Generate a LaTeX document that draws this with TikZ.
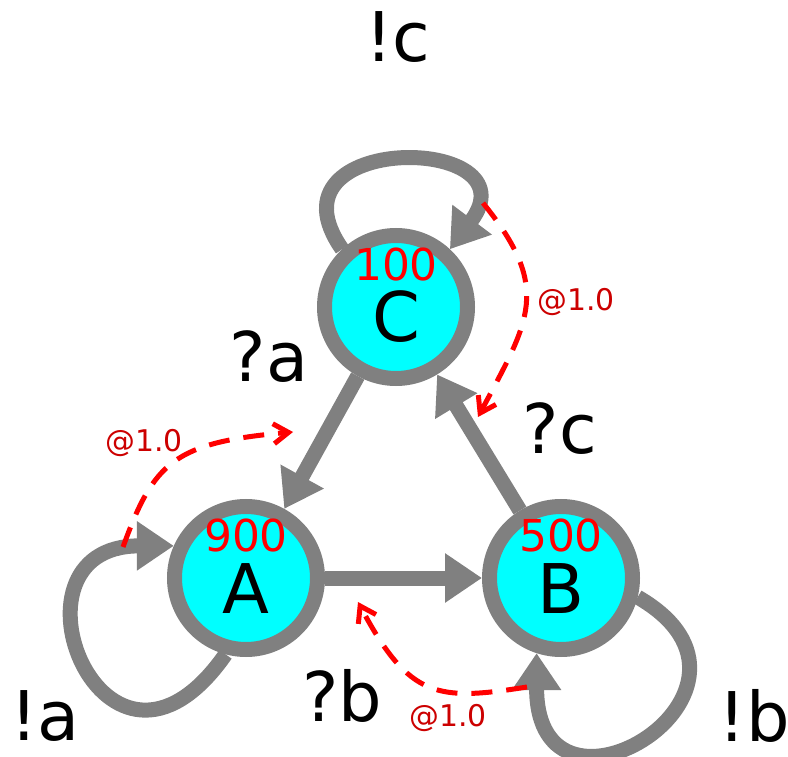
\documentclass[tikz,border=0pt]{standalone}
\usepackage{fontspec}
\setmainfont{DejaVu Sans}
\usepackage{xcolor}
\usetikzlibrary{arrows.meta}
\definecolor{statefill}{RGB}{0,255,255}
\definecolor{delayred}{RGB}{204,0,0}

\begin{document}
\begin{tikzpicture}[
  state/.style={circle, draw=gray, line width=0.3cm, fill=statefill, minimum size=2.86cm,
                inner sep=0pt, text height=1.4cm, text depth=0pt, font=\fontsize{39}{39}\selectfont},
  count/.style={text=red, inner sep=0pt, font=\fontsize{25}{25}\selectfont},
  trans/.style={draw=gray, line width=0.3cm, -{Triangle[length=0.74cm,width=0.94cm]}},
  act/.style={inner sep=0pt, font=\fontsize{39}{39}\selectfont},
  delay/.style={draw=red, line width=0.1cm, dash pattern=on 0.42cm off 0.28cm,
                -{Straight Barb[length=0.3cm,width=0.4cm]}},
  delaylbl/.style={text=delayred, inner sep=0pt, font=\fontsize{17}{17}\selectfont},
]
\useasboundingbox (0,0) rectangle (15.76,15.12);

\node[state, label={[count, yshift=0.84cm]center:100}] (C) at (7.92,8.98) {C};
\node[state, label={[count, yshift=0.84cm]center:900}] (A) at (4.92,3.56) {A};
\node[state, label={[count, yshift=0.84cm]center:500}] (B) at (11.22,3.56) {B};

% self loops
\draw[trans] (C.133) to[out=125, in=53, distance=2.9cm] (C.47);
\draw[trans] (A.255) to[out=235, in=180, out distance=4.2cm, in distance=3.6cm] (A.156);
\draw[trans] (B.346) to[out=-30, in=270, out distance=3.7cm, in distance=3.9cm] (B.252);

\draw[trans] (C) -- (A);
\draw[trans] (A) -- (B);
\draw[trans] (B) -- (C);

\node[act] (lc) at (7.96,14.38) {!c};
\node[act] (la) at (0.9,0.8) {!a};
\node[act] (lb) at (15.08,0.8) {!b};
\node[act] (qa) at (5.38,7.98) {?a};
\node[act] (qc) at (11.2,6.54) {?c};
\node[act] (qb) at (6.84,1.2) {?b};

% delays
\coordinate (dc0) at (9.66,11.06);
\coordinate (dc1) at (9.56,6.78);
\coordinate (da0) at (2.46,4.18);
\coordinate (da1) at (5.86,6.48);
\coordinate (db0) at (10.54,1.38);
\coordinate (db1) at (7.16,3.08);
\draw[delay] (dc0) to[out=-51, in=62, distance=2.2cm] (dc1);
\draw[delay] (da0) to[out=70, in=185, out distance=1.8cm, in distance=2.4cm] (da1);
\draw[delay] (db0) to[out=189, in=-62, out distance=1.8cm, in distance=2.2cm] (db1);

\node[delaylbl] (dlc) at (11.52,9.08) {@1.0};
\node[delaylbl] (dla) at (2.88,6.26) {@1.0};
\node[delaylbl] (dlb) at (8.96,0.76) {@1.0};
\end{tikzpicture}
\end{document}
